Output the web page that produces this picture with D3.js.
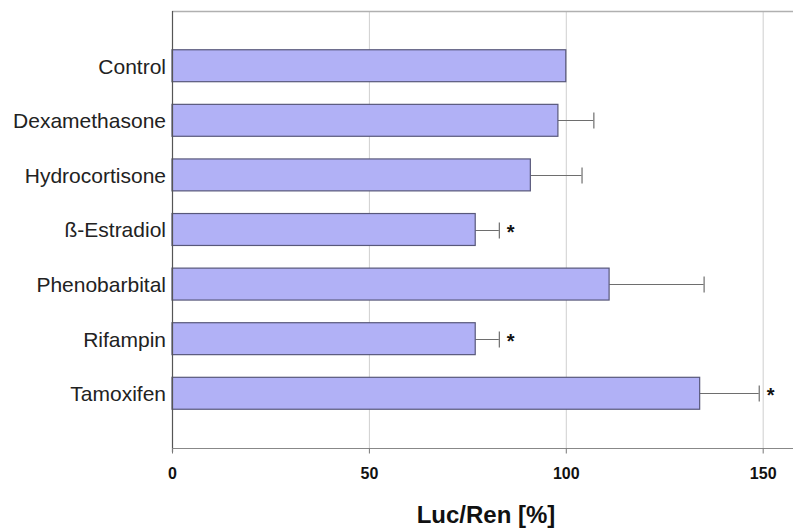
<!DOCTYPE html>
<html>
<head>
<meta charset="utf-8">
<script src="https://cdn.jsdelivr.net/npm/d3@7"></script>
<style>
  html, body { margin: 0; padding: 0; background: #fff; }
  svg { display: block; }
</style>
</head>
<body>
<svg id="chart" width="793" height="528"></svg>
<script>
// Treatments, reporter activity relative to control, and error bar tops
const categories = ["Control", "Dexamethasone", "Hydrocortisone", "ß-Estradiol", "Phenobarbital", "Rifampin", "Tamoxifen"];
const values = [100, 98, 91, 77, 111, 77, 134];
const errorTops = [100, 107, 104, 83, 135, 83, 149];
const significant = [false, false, false, true, false, true, true];
const xTicks = [0, 50, 100, 150];
const xTitle = "Luc/Ren [%]";

const svg = d3.select("#chart");
const margin = { left: 172, top: 11, right: 0, bottom: 79 };
const W = 793, H = 528;
const plotBottom = H - margin.bottom - 1; // 449
const font = "Liberation Sans, Arial, sans-serif";

const x = d3.scaleLinear().domain([0, 157.7]).range([margin.left, W]);
const y = d3.scaleBand().domain(categories).range([margin.top, plotBottom])
  .paddingInner(0.415).paddingOuter(0.71);

// vertical gridlines
svg.append("g").selectAll("line").data(xTicks.filter(d => d > 0)).join("line")
  .attr("x1", d => x(d) + 0.5).attr("x2", d => x(d) + 0.5)
  .attr("y1", margin.top).attr("y2", plotBottom)
  .attr("stroke", "#cfcfcf").attr("stroke-width", 1);

// top frame line
svg.append("line")
  .attr("x1", margin.left).attr("x2", W)
  .attr("y1", margin.top + 0.5).attr("y2", margin.top + 0.5)
  .attr("stroke", "#b0b0b0").attr("stroke-width", 1.5);

// error bars (drawn first so bars cover the stem start)
const eb = svg.append("g");
categories.forEach((c, i) => {
  if (errorTops[i] <= values[i]) return;
  const cy = Math.round(y(c) + y.bandwidth() / 2) + 0.5;
  eb.append("line")
    .attr("x1", x(values[i])).attr("x2", x(errorTops[i]))
    .attr("y1", cy).attr("y2", cy)
    .attr("stroke", "#6e6e6e").attr("stroke-width", 1);
  eb.append("line")
    .attr("x1", x(errorTops[i]) + 0.5).attr("x2", x(errorTops[i]) + 0.5)
    .attr("y1", cy - 8).attr("y2", cy + 8)
    .attr("stroke", "#6e6e6e").attr("stroke-width", 1.2);
});

// bars
svg.append("g").selectAll("rect").data(categories).join("rect")
  .attr("x", x(0))
  .attr("y", d => y(d))
  .attr("width", (d, i) => x(values[i]) - x(0))
  .attr("height", y.bandwidth())
  .attr("fill", "#b1b1f6")
  .attr("stroke", "#58587a")
  .attr("stroke-width", 1.2);

// significance markers
svg.append("g").selectAll("text").data(categories.filter((c, i) => significant[i])).join("text")
  .attr("x", d => x(errorTops[categories.indexOf(d)]) + 8)
  .attr("y", d => y(d) + y.bandwidth() / 2 + 9)
  .attr("font-family", font)
  .attr("font-weight", "bold")
  .attr("font-size", 20)
  .attr("fill", "#111")
  .text("*");

// left axis line
svg.append("line")
  .attr("x1", margin.left + 0.5).attr("x2", margin.left + 0.5)
  .attr("y1", margin.top).attr("y2", plotBottom + 4)
  .attr("stroke", "#555").attr("stroke-width", 1.2);

// bottom axis
const xAxis = d3.axisBottom(x).tickValues(xTicks).tickSize(5).tickPadding(14).tickFormat(d3.format("d"));
const gx = svg.append("g").attr("transform", `translate(0,${plotBottom + 0.5})`).call(xAxis);
gx.select(".domain").attr("stroke", "#888").attr("stroke-width", 1.2).attr("d", `M${margin.left},0H${W}`);
gx.selectAll(".tick line").attr("stroke", "#777");
gx.selectAll(".tick text")
  .attr("font-family", font)
  .attr("font-weight", "bold")
  .attr("font-size", 16)
  .attr("fill", "#111");

// category labels
const yAxis = d3.axisLeft(y).tickSize(0).tickPadding(6);
const gy = svg.append("g").attr("transform", `translate(${margin.left},0)`).call(yAxis);
gy.select(".domain").remove();
gy.selectAll(".tick text")
  .attr("dy", "0.38em")
  .attr("font-family", font)
  .attr("font-size", 21)
  .attr("fill", "#222");

// axis title
svg.append("text")
  .attr("x", 486).attr("y", 523)
  .attr("text-anchor", "middle")
  .attr("font-family", font)
  .attr("font-weight", "bold")
  .attr("font-size", 24)
  .attr("fill", "#111")
  .text(xTitle);
</script>
</body>
</html>
